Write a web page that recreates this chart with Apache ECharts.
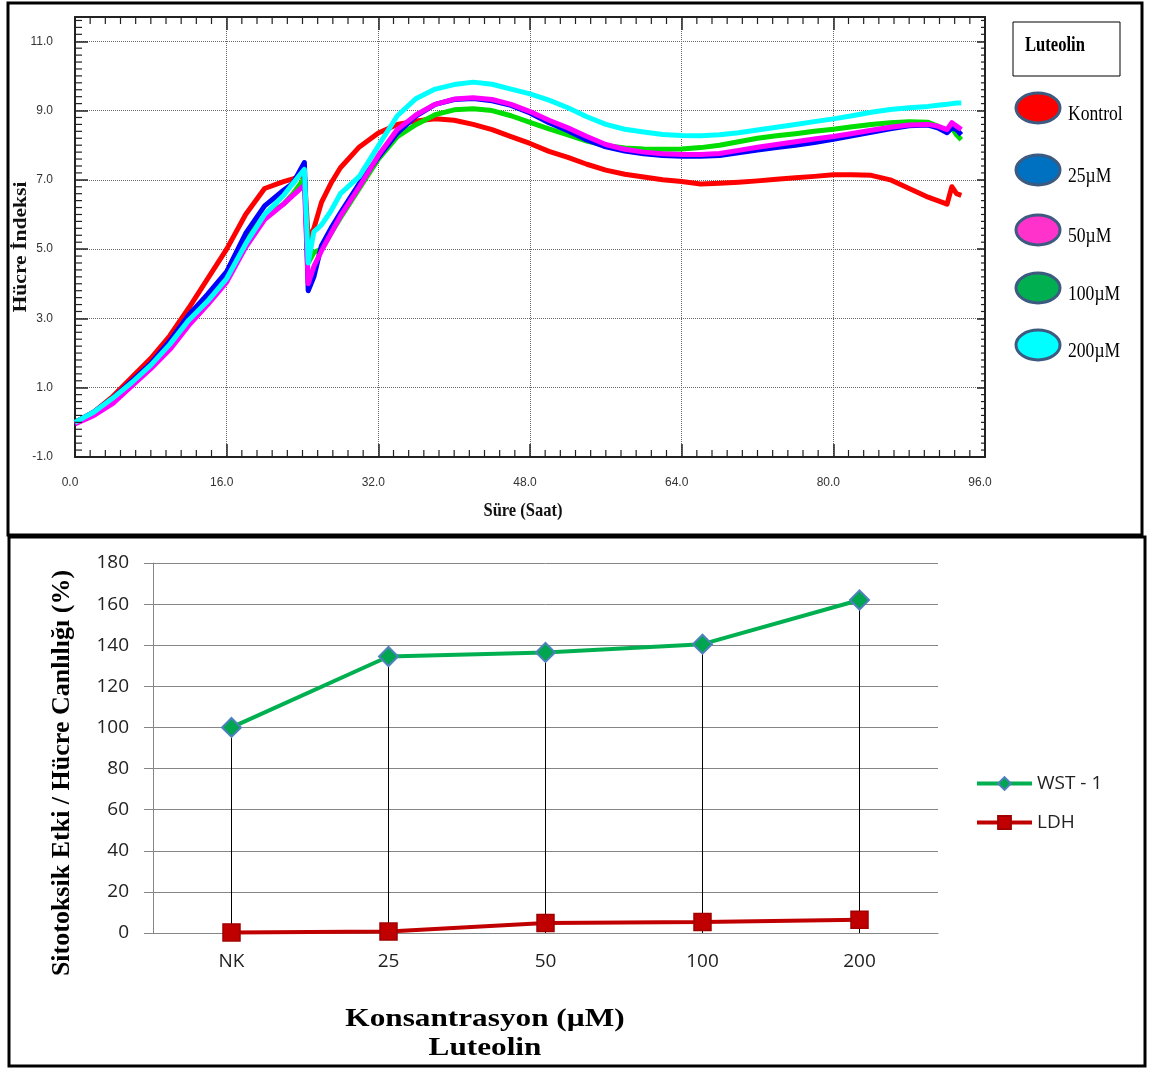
<!DOCTYPE html>
<html><head><meta charset="utf-8">
<script src="https://cdn.jsdelivr.net/npm/echarts@6/dist/echarts.min.js"></script>
<style>html,body{margin:0;padding:0;background:#fff}#c{width:1150px;height:1068px}</style>
</head><body><div id="c"></div>
<script>
// ---------- Top chart (real-time cell index) ----------
const hours = [0,2,4,6,8,10,12,14,16,18,20,22,23,24.2,24.6,25.2,26,27,28,30,32,34,36,38,40,42,44,46,48,50,52,54,56,58,60,62,64,66,68,70,72,74,76,78,80,82,84,86,88,90,91,92,92.5,93,93.5];
const kontrol = [0.0,0.3,0.75,1.3,1.85,2.5,3.3,4.15,5.0,6.0,6.75,6.95,7.03,7.15,5.3,5.6,6.35,6.9,7.35,7.95,8.35,8.6,8.7,8.76,8.72,8.6,8.45,8.25,8.05,7.82,7.65,7.45,7.28,7.16,7.08,7.0,6.95,6.88,6.9,6.93,6.97,7.02,7.06,7.1,7.15,7.15,7.13,7.0,6.75,6.5,6.4,6.3,6.8,6.6,6.55];
const uM25 = [0.0,0.3,0.7,1.2,1.7,2.35,3.1,3.7,4.35,5.45,6.25,6.7,6.9,7.5,3.8,4.2,5.1,5.6,6.05,6.9,7.65,8.35,8.85,9.18,9.32,9.35,9.28,9.15,8.93,8.65,8.42,8.15,7.95,7.83,7.75,7.7,7.68,7.68,7.7,7.78,7.86,7.93,8.0,8.08,8.17,8.27,8.37,8.47,8.56,8.58,8.5,8.36,8.5,8.45,8.3];
const uM50 = [-0.05,0.2,0.55,1.05,1.55,2.1,2.8,3.4,4.05,5.05,5.85,6.3,6.55,6.85,4.0,4.5,4.95,5.45,5.95,6.8,7.7,8.45,8.88,9.18,9.33,9.37,9.32,9.18,8.97,8.72,8.5,8.25,8.02,7.88,7.8,7.75,7.73,7.73,7.76,7.85,7.94,8.02,8.1,8.18,8.25,8.34,8.43,8.52,8.58,8.6,8.55,8.45,8.65,8.55,8.45];
const uM100 = [0.0,0.25,0.65,1.1,1.65,2.25,2.9,3.5,4.15,5.3,5.95,6.3,6.6,7.05,4.6,4.9,5.0,5.45,5.9,6.75,7.6,8.25,8.6,8.88,9.02,9.05,9.0,8.85,8.66,8.47,8.3,8.12,7.99,7.92,7.89,7.88,7.89,7.93,8.0,8.1,8.2,8.27,8.33,8.4,8.46,8.53,8.6,8.65,8.68,8.66,8.55,8.4,8.5,8.3,8.16];
const uM200 = [0.0,0.3,0.7,1.15,1.65,2.25,2.95,3.5,4.15,5.15,6.0,6.55,6.9,7.3,4.6,5.5,5.7,6.1,6.6,7.1,7.98,8.85,9.35,9.62,9.75,9.82,9.76,9.62,9.48,9.3,9.08,8.82,8.6,8.46,8.38,8.31,8.28,8.27,8.3,8.36,8.44,8.52,8.6,8.68,8.76,8.85,8.95,9.03,9.08,9.12,9.15,9.18,9.2,9.22,9.22];
const topXTicks = [0,16,32,48,64,80,96];
const topYTicks = [-1,1,3,5,7,9,11];
const topYMax = 11.7;
const topNames = ['Kontrol','25µM','50µM','100µM','200µM'];

// ---------- Bottom chart (WST-1 / LDH) ----------
const concLabels = ['NK','25','50','100','200'];
const wst1 = [100,134.5,136.5,140.5,162];
const ldh = [0.3,0.7,4.9,5.4,6.5];
const bottomYTicks = [0,20,40,60,80,100,120,140,160,180];

const chart = echarts.init(document.getElementById('c'), null, {renderer:'canvas'});

function pair(vals){ return hours.map((t,i)=>[t, vals[i]]); }
const serif = 'Liberation Serif, Times New Roman, serif';
const narrow = 'Liberation Sans Narrow, Liberation Sans, Arial, sans-serif';
const sans = 'Open Sans, Lato, sans-serif';

// minor tick values of the top plot frame (axis values, 10 per major step)
const minorTickVals = [];
for (let i = 1; i < 60; i++) if (i % 10) minorTickVals.push([0, +(i * 1.6).toFixed(2)]);
for (let i = 1; i < 64; i++) if (i % 10) minorTickVals.push([1, +(-1 + i * 0.2).toFixed(2)]);

const topLineDefs = [
  {name:topNames[0], data:kontrol, color:'#ff0000', z:2},
  {name:topNames[3], data:uM100, color:'#00dd00', z:3},
  {name:topNames[1], data:uM25, color:'#0000ff', z:4},
  {name:topNames[2], data:uM50, color:'#ff00ff', z:5},
  {name:topNames[4], data:uM200, color:'#00ffff', z:6}
];
const legendSwatch = [
  {name:topNames[0], fill:'#ff0000', cy:108},
  {name:topNames[1], fill:'#0070c0', cy:170},
  {name:topNames[2], fill:'#ff33cc', cy:230},
  {name:topNames[3], fill:'#00b050', cy:288},
  {name:topNames[4], fill:'#00ffff', cy:345}
];

const axisC = '#222';
const graphics = [
  {type:'rect', shape:{x:8,y:3,width:1134,height:532}, style:{fill:null, stroke:'#000', lineWidth:3}, z:100},
  {type:'rect', shape:{x:9,y:537,width:1136,height:529}, style:{fill:null, stroke:'#000', lineWidth:3}, z:100},
  {type:'rect', shape:{x:1013,y:22,width:107,height:54}, style:{fill:'#fff', stroke:'#000', lineWidth:1}},
  {type:'text', x:1025, y:46, scaleX:0.79, style:{text:'Luteolin', font:'bold 21px '+serif, fill:'#000', textAlign:'left', textVerticalAlign:'middle'}},
  {type:'text', x:21, y:247, rotation:Math.PI/2, scaleX:1.2, style:{text:'Hücre İndeksi', font:'bold 18px '+serif, fill:'#111', textAlign:'center', textVerticalAlign:'middle'}},
  {type:'text', x:523, y:511, scaleX:0.87, style:{text:'Süre (Saat)', font:'bold 19px '+serif, fill:'#111', textAlign:'center', textVerticalAlign:'middle'}},
  {type:'text', x:62, y:773, rotation:Math.PI/2, style:{text:'Sitotoksik Etki / Hücre Canlılığı (%)', font:'bold 26px '+serif, fill:'#000', textAlign:'center', textVerticalAlign:'middle'}},
  {type:'text', x:485, y:1020, scaleX:1.25, style:{text:'Konsantrasyon (µM)', font:'bold 25px '+serif, fill:'#000', textAlign:'center', textVerticalAlign:'middle'}},
  {type:'text', x:485, y:1049, scaleX:1.25, style:{text:'Luteolin', font:'bold 25px '+serif, fill:'#000', textAlign:'center', textVerticalAlign:'middle'}}
];
legendSwatch.forEach(s=>{
  graphics.push({type:'ellipse', shape:{cx:1038, cy:s.cy, rx:22, ry:15}, style:{fill:s.fill, stroke:'#3d5a80', lineWidth:3}});
  graphics.push({type:'text', x:1068, y:s.cy+6, scaleX:0.8, style:{text:s.name, font:'22px '+serif, fill:'#000', textAlign:'left', textVerticalAlign:'middle'}});
});

const tickStyle = {color:axisC, width:1.5};
const TL = 7;
function renderMinorTick(params, api){
  const kind = api.value(0), v = api.value(1);
  const st = {stroke:axisC, lineWidth:1.2};
  if (kind === 0) {
    const b = api.coord([v, topYTicks[0]]), t = api.coord([v, topYMax]);
    return {type:'group', children:[
      {type:'line', shape:{x1:b[0], y1:b[1], x2:b[0], y2:b[1]-TL}, style:st},
      {type:'line', shape:{x1:t[0], y1:t[1], x2:t[0], y2:t[1]+TL}, style:st}
    ]};
  }
  const l = api.coord([topXTicks[0], v]), r = api.coord([topXTicks[topXTicks.length-1], v]);
  return {type:'group', children:[
    {type:'line', shape:{x1:l[0], y1:l[1], x2:l[0]+TL, y2:l[1]}, style:st},
    {type:'line', shape:{x1:r[0], y1:r[1], x2:r[0]-4, y2:r[1]}, style:st}
  ]};
}

const option = {
  backgroundColor:'#fff',
  animation:false,
  grid:[
    {left:75, top:17, width:910, height:440, outerBoundsMode:'none'},
    {left:153, top:563, width:785, height:370, outerBoundsMode:'none'}
  ],
  xAxis:[
    {gridIndex:0, type:'value', min:topXTicks[0], max:topXTicks[topXTicks.length-1], interval:16, position:'bottom',
     axisLine:{show:true, onZero:false, lineStyle:{color:axisC, width:2}},
     axisTick:{show:true, inside:true, length:13, lineStyle:tickStyle},
     axisLabel:{margin:20, fontFamily:narrow, fontSize:12, color:'#333', formatter:v=>v.toFixed(1), padding:[0,10,0,0]},
     splitLine:{show:true, lineStyle:{color:'#666', type:'dotted'}}},
    {gridIndex:0, type:'value', min:0, max:96, interval:16, position:'top',
     axisLine:{show:true, onZero:false, lineStyle:{color:axisC, width:2}},
     axisTick:{show:true, inside:true, length:13, lineStyle:tickStyle},
     axisLabel:{show:false}, splitLine:{show:false}},
    {gridIndex:1, type:'category', data:concLabels, boundaryGap:true,
     axisLine:{show:true, lineStyle:{color:'#868686'}}, axisTick:{show:false},
     axisLabel:{margin:19, fontFamily:sans, fontSize:19, color:'#222'}, splitLine:{show:false}}
  ],
  yAxis:[
    {gridIndex:0, type:'value', min:topYTicks[0], max:topYMax, interval:2, position:'left',
     axisLine:{show:true, onZero:false, lineStyle:{color:axisC, width:2}},
     axisTick:{show:true, inside:true, length:13, lineStyle:tickStyle},
     axisLabel:{margin:22, fontFamily:narrow, fontSize:12, color:'#333', showMaxLabel:false,
       formatter:v=> topYTicks.indexOf(v)>=0 ? v.toFixed(1) : '', padding:[0,0,10,0]},
     splitLine:{show:true, lineStyle:{color:'#666', type:'dotted'}}},
    {gridIndex:0, type:'value', min:-1, max:topYMax, interval:2, position:'right',
     axisLine:{show:true, onZero:false, lineStyle:{color:axisC, width:2}},
     axisTick:{show:true, inside:true, length:8, lineStyle:tickStyle},
     axisLabel:{show:false}, splitLine:{show:false}},
    {gridIndex:1, type:'value', min:bottomYTicks[0], max:bottomYTicks[bottomYTicks.length-1], interval:20,
     axisLine:{show:true, lineStyle:{color:'#868686'}},
     axisTick:{show:true, length:9, lineStyle:{color:'#868686'}},
     axisLabel:{margin:24, fontFamily:sans, fontSize:19, color:'#222'},
     splitLine:{show:true, lineStyle:{color:'#868686'}}}
  ],
  legend:{
    data:['WST - 1','LDH'], orient:'vertical', left:975, top:774, itemWidth:55, itemHeight:16, itemGap:20,
    padding:0, lineStyle:{width:4}, textStyle:{fontFamily:sans, fontSize:19, color:'#222'}
  },
  series:[
    {name:'minorTicks', type:'custom', xAxisIndex:0, yAxisIndex:0, data:minorTickVals,
     renderItem:renderMinorTick, clip:false, silent:true, z:10, encode:{x:-1, y:-1}},
    ...topLineDefs.map(d=>({
      name:d.name, type:'line', xAxisIndex:0, yAxisIndex:0, data:pair(d.data),
      showSymbol:false, smooth:false, z:d.z,
      lineStyle:{color:d.color, width:5, join:'round'}, itemStyle:{color:d.color}
    })),
    {name:'drop', type:'bar', xAxisIndex:2, yAxisIndex:2, data:wst1, barWidth:1, z:1, silent:true,
     itemStyle:{color:'#000'}},
    {name:'LDH', type:'line', xAxisIndex:2, yAxisIndex:2, data:ldh, z:3,
     symbol:'rect', symbolSize:17,
     lineStyle:{color:'#c00000', width:4},
     itemStyle:{color:'#c00000', borderColor:'#a00000', borderWidth:1.5}},
    {name:'WST - 1', type:'line', xAxisIndex:2, yAxisIndex:2, data:wst1, z:4,
     symbol:'diamond', symbolSize:19,
     lineStyle:{color:'#00b050', width:4},
     itemStyle:{color:'#00a550', borderColor:'#4f81bd', borderWidth:2}}
  ],
  graphic:graphics
};
chart.setOption(option);
</script>
</body></html>
